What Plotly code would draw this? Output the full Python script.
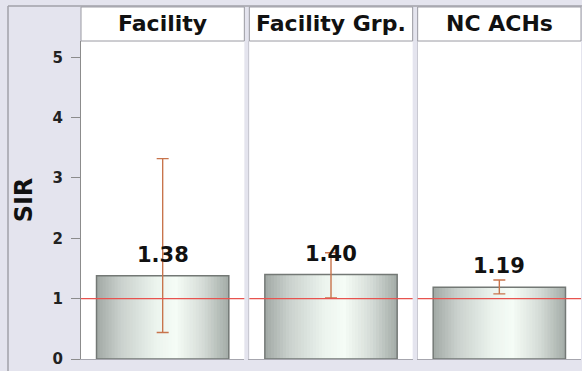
import plotly.graph_objects as go
from plotly.subplots import make_subplots
from plotly.colors import sample_colorscale

# values
groups = ["Facility", "Facility Grp.", "NC ACHs"]
sir = [1.38, 1.40, 1.19]
ci_lower = [0.44, 1.01, 1.08]
ci_upper = [3.32, 1.76, 1.31]
reference_sir = 1.0
y_ticks = [0, 1, 2, 3, 4, 5]

BG = "#e4e4ee"
FONT = "DejaVu Sans"
BAR_W = 0.81
N_STRIPES = 44
# cylinder-like shading of the bars
shade = [[0.0, "#a1a9a5"], [0.18, "#c9d0cc"], [0.45, "#ecf4ee"],
         [0.6, "#f5fcf6"], [0.8, "#d6ddd8"], [1.0, "#a3aba7"]]
stripe_colors = sample_colorscale(shade, [(k + 0.5) / N_STRIPES for k in range(N_STRIPES)])

fig = make_subplots(rows=1, cols=3, shared_yaxes=True, horizontal_spacing=0.01)

for i, (g, v, lo, hi) in enumerate(zip(groups, sir, ci_lower, ci_upper)):
    col = i + 1
    step = BAR_W / N_STRIPES
    for k, c in enumerate(stripe_colors):
        off = -BAR_W / 2 + k * step
        w = min(2 * step, BAR_W / 2 - off)  # overlap the next stripe to hide seams
        fig.add_trace(go.Bar(x=[g], y=[v], width=[w], offset=[off],
                             marker=dict(color=c, line=dict(width=0)),
                             hoverinfo="skip", showlegend=False), row=1, col=col)
    fig.add_trace(go.Bar(x=[g], y=[v], width=[BAR_W], offset=[-BAR_W / 2],
                         marker=dict(color="rgba(0,0,0,0)", line=dict(color="#737875", width=1.5)),
                         hovertemplate=f"{g}<br>SIR: %{{y:.2f}}<extra></extra>",
                         showlegend=False), row=1, col=col)
    fig.add_trace(go.Scatter(x=[g], y=[v], mode="markers",
                             marker=dict(size=1, opacity=0),
                             error_y=dict(type="data", symmetric=False,
                                          array=[hi - v], arrayminus=[v - lo],
                                          color="#c8744c", thickness=1.4, width=6),
                             hoverinfo="skip", showlegend=False), row=1, col=col)
    xname = "x" if col == 1 else f"x{col}"
    yname = "y" if col == 1 else f"y{col}"
    fig.add_annotation(x=g, y=v, xref=xname, yref=yname, text=f"{v:.2f}",
                       showarrow=False, yanchor="bottom", yshift=7,
                       font=dict(family=FONT, size=21, color="#111", weight="bold"))
    # header box
    fig.add_shape(type="rect", xref=f"{xname} domain", yref="paper",
                  x0=0, x1=1, y0=1, y1=1.107, fillcolor="white",
                  line=dict(color="#9a9aa2", width=1), layer="above")
    fig.add_annotation(x=0.5, y=1.0535, xref=f"{xname} domain", yref="paper",
                       text=g, showarrow=False, yanchor="middle",
                       font=dict(family=FONT, size=22, color="#111", weight="bold"))

fig.add_hline(y=reference_sir, line_color="#e8534f", line_width=1.3,
              row="all", col="all", layer="above")

# outer frame
fig.add_shape(type="line", xref="paper", yref="paper", x0=-0.146, x1=-0.146,
              y0=-0.05, y1=1.11, line=dict(color="#a2a2a8", width=1.5))
fig.add_shape(type="line", xref="paper", yref="paper", x0=-0.146, x1=1.01,
              y0=1.11, y1=1.11, line=dict(color="#a2a2a8", width=1.5))

fig.update_xaxes(showticklabels=False, ticks="", showgrid=False, zeroline=False,
                 showline=True, linecolor="#a6a6ae", linewidth=1)
fig.update_yaxes(range=[0, 5.27], tickvals=y_ticks, showgrid=False, zeroline=False,
                 showline=True, linecolor="#c9c9d2", linewidth=1, automargin=False)
fig.update_yaxes(row=1, col=1, ticks="outside", ticklen=9, tickcolor="#8c8c8c",
                 linecolor="#8c8c8c", ticklabelstandoff=5,
                 tickfont=dict(family=FONT, size=15, color="#222", weight="bold"),
                 title=dict(text="SIR", standoff=13,
                            font=dict(family=FONT, size=24, color="#111", weight="bold")))

fig.update_layout(
    width=582, height=371,
    margin=dict(l=81, r=1, t=41, b=12),
    paper_bgcolor=BG, plot_bgcolor="white",
    barmode="overlay", showlegend=False,
    font=dict(family=FONT),
)

fig.write_html("out.html", config={"displayModeBar": False},
               post_script="document.body.style.margin='0';")
